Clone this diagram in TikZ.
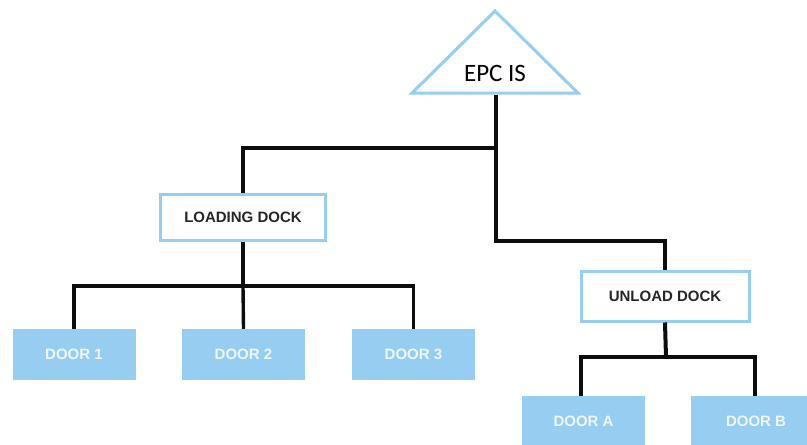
\documentclass[tikz,border=0pt]{standalone}
\usepackage{fontspec}
\setmainfont{Liberation Sans}
\newfontfamily\carlito{Carlito}
\definecolor{lblue}{RGB}{150,205,240}
\definecolor{dtext}{RGB}{238,246,252}
\tikzset{
  dockbox/.style={draw=lblue, line width=3pt, fill=white, minimum width=165pt, minimum height=46pt, inner sep=0pt, font=\fontsize{15}{17}\selectfont\bfseries, text=black!85},
  doorbox/.style={fill=lblue, minimum width=123pt, minimum height=51pt, inner sep=0pt, font=\fontsize{15}{17}\selectfont\bfseries, text=dtext},
  conn/.style={line width=4pt, black!95},
  thinconn/.style={line width=3.4pt, black!95},
}
\begin{document}
\begin{tikzpicture}[x=1pt,y=-1pt]
\useasboundingbox (0,0) rectangle (807,445);
\clip (0,0) rectangle (807,445);
% triangle
\draw[lblue, line width=3pt, line join=miter, fill=white] (412,93) -- (495,11) -- (578,93) -- cycle;
\node[font=\carlito\fontsize{25}{27}\selectfont, text=black] (epc) at (495,73) {EPC IS};
\coordinate (epcb) at (495.5,94.5);
% docks
\node[dockbox] (load) at (243,217.5) {LOADING DOCK};
\node[dockbox, minimum width=168pt, minimum height=50pt] (unload) at (665,296) {UNLOAD DOCK};
% doors
\node[doorbox] (d1) at (74,354.5) {DOOR 1};
\node[doorbox] (d2) at (243.5,354.5) {DOOR 2};
\node[doorbox] (d3) at (413.5,354.5) {DOOR 3};
\node[doorbox] (da) at (583.5,421.5) {DOOR A};
\node[doorbox, minimum width=130pt] (db) at (756,421.5) {DOOR B};
% junction coordinates
\coordinate (j1) at (495.5,148);
\coordinate (j2) at (495.5,241);
\coordinate (j3) at (243,286);
\coordinate (j4) at (666,357);
% connectors
\draw[conn] (epcb) -- (j1) -- (j2) -| (unload.north);
\draw[conn] (j1) -| (load.north);
\draw[thinconn] (load.south) -- (j3);
\draw[thinconn] (j3) -| (d1.north);
\draw[thinconn] (j3) -| (d3.north);
\draw[thinconn] (j3) -- (d2.north);
\draw[conn] (unload.south) -- (j4);
\draw[conn] (j4) -| ([xshift=-3pt]da.north);
\draw[conn] (j4) -| ([xshift=-1pt]db.north);
\end{tikzpicture}
\end{document}
